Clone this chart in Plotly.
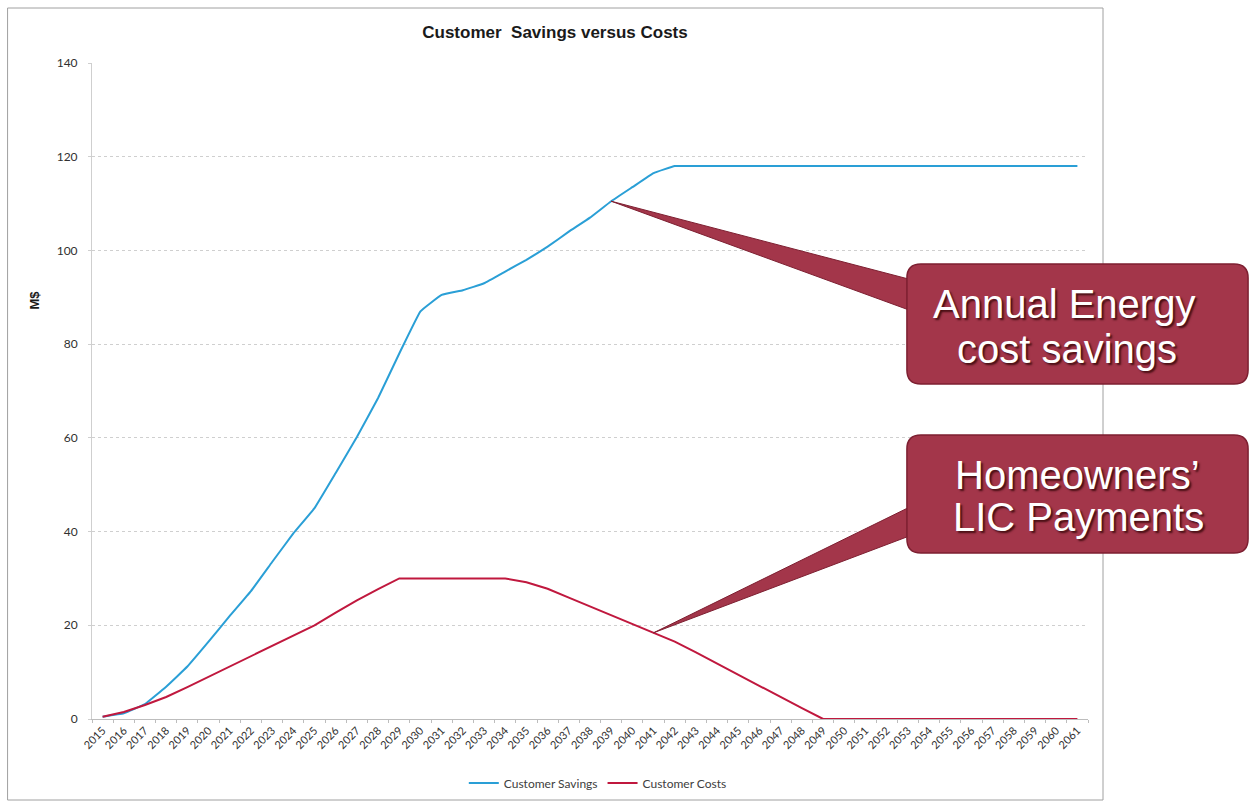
import plotly.graph_objects as go

years = [str(y) for y in range(2015, 2062)]
savings = [0.5, 1.2, 3.2, 6.9, 11.2, 16.5, 22.0, 27.3, 33.5, 39.6, 45.0, 52.5, 60.2, 68.5, 78.0,
           87.0, 90.5, 91.5, 93.0, 95.5, 98.0, 100.8, 104.0, 107.0, 110.5, 113.5, 116.5, 118.0] + [118.0] * 19
costs = [0.5, 1.5, 3.0, 4.7, 6.8, 9.0, 11.2, 13.4, 15.6, 17.8, 20.0, 22.7, 25.3, 27.7, 30.0,
         30.0, 30.0, 30.0, 30.0, 30.0, 29.2, 27.8, 25.9, 24.0, 22.2, 20.3, 18.4, 16.5, 14.2, 11.8,
         9.4, 7.0, 4.7, 2.3, 0.0] + [0.0] * 12
y_ticks = [0, 20, 40, 60, 80, 100, 120, 140]

BLUE = "#2a9fd6"
RED = "#c0183e"
BOX = "#a3364a"

# plot-area pixel geometry (for decorations only)
L, R, T, B = 92.4, 1088.0, 63.0, 719.0
W, H = R - L, B - T
XR = [-0.5, len(years) - 0.5]
YR = [0, 140]


def px(x):
    return (x - L) / W


def py(y):
    return (B - y) / H


def dx(i):
    return (i - XR[0]) / (XR[1] - XR[0])


def dy(v):
    return (v - YR[0]) / (YR[1] - YR[0])


fig = go.Figure()
fig.add_trace(go.Scatter(x=years, y=savings, mode="lines", name="Customer Savings",
                         line=dict(color=BLUE, width=2, shape="spline", smoothing=0.25)))
fig.add_trace(go.Scatter(x=years, y=costs, mode="lines", name="Customer Costs",
                         line=dict(color=RED, width=2)))


def rounded_box(x0, y0, x1, y1, r=10):
    def P(x, y):
        return f"{px(x):.5f},{py(y):.5f}"
    return ("M " + P(x0 + r, y0) + " L " + P(x1 - r, y0) + " Q " + P(x1, y0) + " " + P(x1, y0 + r) +
            " L " + P(x1, y1 - r) + " Q " + P(x1, y1) + " " + P(x1 - r, y1) +
            " L " + P(x0 + r, y1) + " Q " + P(x0, y1) + " " + P(x0, y1 - r) +
            " L " + P(x0, y0 + r) + " Q " + P(x0, y0) + " " + P(x0 + r, y0) + " Z")


shapes = []
shapes.append(dict(type="rect", xref="paper", yref="paper", x0=px(8), x1=px(1103), y0=py(8), y1=py(800),
                   line=dict(color="#a0a0a0", width=1), fillcolor="rgba(0,0,0,0)", layer="below"))

i1 = years.index("2039")
i2 = years.index("2041")
tip1 = (dx(i1), dy(savings[i1]))
tip2 = (dx(i2), dy(costs[i2]))
shapes.append(dict(type="path", xref="paper", yref="paper",
                   path=f"M {tip1[0]:.5f},{tip1[1]:.5f} L {px(920):.5f},{py(282):.5f} L {px(920):.5f},{py(314):.5f} Z",
                   fillcolor=BOX, line=dict(color="#7d1f31", width=1)))
shapes.append(dict(type="path", xref="paper", yref="paper",
                   path=f"M {tip2[0]:.5f},{tip2[1]:.5f} L {px(920):.5f},{py(502):.5f} L {px(920):.5f},{py(532):.5f} Z",
                   fillcolor=BOX, line=dict(color="#7d1f31", width=1)))
shapes.append(dict(type="path", xref="paper", yref="paper", path=rounded_box(907, 264, 1248, 384, 14),
                   fillcolor=BOX, line=dict(color="#7d1f31", width=1.5)))
shapes.append(dict(type="path", xref="paper", yref="paper", path=rounded_box(907, 435, 1248, 553, 14),
                   fillcolor=BOX, line=dict(color="#7d1f31", width=1.5)))

callout_font = dict(family="Liberation Sans, Arial", size=40, color="white",
                    shadow="2px 2px 2px rgba(40,0,0,0.75)")
callout_lines = [("Annual Energy", 1064, 304), ("cost savings", 1067, 349),
                 ("Homeowners’", 1078, 475), ("LIC Payments", 1079, 517)]
annotations = [dict(xref="paper", yref="paper", x=px(cx), y=py(cy), text=t, showarrow=False,
                    font=callout_font, xanchor="center", yanchor="middle")
               for t, cx, cy in callout_lines]
annotations.append(dict(xref="paper", yref="paper", x=px(34), y=py(300), text="<b>M$</b>", textangle=-90,
                        showarrow=False, font=dict(family="Liberation Sans, Arial", size=13, color="#1a1a1a"),
                        xanchor="center", yanchor="middle"))

fig.update_layout(
    width=1249, height=803,
    margin=dict(l=92, r=161, t=63, b=84, autoexpand=False),
    paper_bgcolor="white", plot_bgcolor="white",
    title=dict(text="<b>Customer  Savings versus Costs</b>", x=555 / 1249, xanchor="center",
               y=1 - 32 / 803, yanchor="middle",
               font=dict(family="Liberation Sans, Arial", size=17, color="#1a1a1a")),
    xaxis=dict(type="category", range=XR, tickangle=-45, showgrid=False, automargin=False,
               showline=True, linecolor="#bdbdbd", ticks="outside", ticklen=3, tickcolor="#bdbdbd",
               tickson="boundaries",
               tickfont=dict(family="Lato, Open Sans", size=11, color="#303030")),
    yaxis=dict(range=YR, tickvals=y_ticks, showgrid=True, gridcolor="#cfcfcf", griddash="dot",
               showline=True, linecolor="#cfcfcf", zeroline=False, ticks="outside", ticklen=3,
               tickcolor="#cfcfcf", automargin=False, ticklabelstandoff=8,
               tickfont=dict(family="Lato, Open Sans", size=12, color="#303030")),
    legend=dict(orientation="h", x=px(598), xanchor="center", y=py(783), yanchor="middle",
                font=dict(family="Lato, Open Sans", size=12, color="#404040"), itemwidth=30,
                tracegroupgap=0),
    shapes=shapes, annotations=annotations,
)

fig.write_html("out.html", config={"displayModeBar": False},
               post_script="document.body.style.margin='0';")
